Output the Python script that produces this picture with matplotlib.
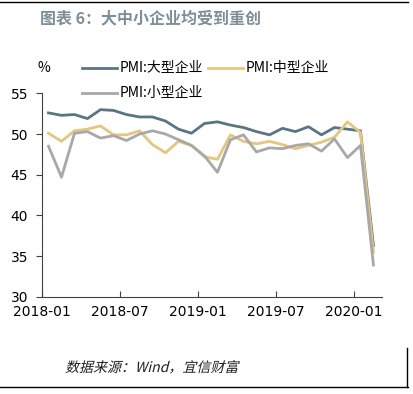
import matplotlib.pyplot as plt
from matplotlib.lines import Line2D
from matplotlib.textpath import TextPath
from matplotlib.patches import PathPatch
from matplotlib.font_manager import FontProperties
from matplotlib.transforms import Affine2D, IdentityTransform

plt.rcParams['font.family'] = ['Noto Sans CJK SC', 'DejaVu Sans']

# 月份（2018-01 到 2020-02）
months = ["2018-01", "2018-02", "2018-03", "2018-04", "2018-05", "2018-06",
          "2018-07", "2018-08", "2018-09", "2018-10", "2018-11", "2018-12",
          "2019-01", "2019-02", "2019-03", "2019-04", "2019-05", "2019-06",
          "2019-07", "2019-08", "2019-09", "2019-10", "2019-11", "2019-12",
          "2020-01", "2020-02"]

pmi_large = [52.6, 52.3, 52.4, 51.9, 53.0, 52.9, 52.4, 52.1, 52.1, 51.6, 50.6, 50.1,
             51.3, 51.5, 51.1, 50.8, 50.3, 49.9, 50.7, 50.3, 50.9, 49.9, 50.8, 50.6,
             50.4, 36.3]
pmi_medium = [50.1, 49.1, 50.4, 50.6, 51.0, 49.9, 49.9, 50.4, 48.7, 47.7, 49.1, 48.6,
              47.2, 46.9, 49.9, 49.1, 48.8, 49.1, 48.7, 48.2, 48.6, 49.0, 49.6, 51.5,
              50.2, 35.5]
pmi_small = [48.5, 44.7, 50.1, 50.3, 49.5, 49.8, 49.2, 50.0, 50.4, 50.0, 49.3, 48.6,
             47.3, 45.3, 49.3, 49.9, 47.8, 48.3, 48.2, 48.6, 48.8, 47.9, 49.4, 47.1,
             48.6, 33.9]

tick_labels = ["2018-01", "2018-07", "2019-01", "2019-07", "2020-01"]

c_large = '#5b7483'
c_medium = '#e6c67f'
c_small = '#a8a8a8'

fig = plt.figure(figsize=(4.13, 3.94), dpi=100)
ax = fig.add_axes([0.1017, 0.247, 0.823, 0.516])

x = list(range(len(months)))
ax.plot(x, pmi_large, color=c_large, lw=2)
ax.plot(x, pmi_medium, color=c_medium, lw=2)
ax.plot(x, pmi_small, color=c_small, lw=2)

ax.set_ylim(30, 55)
ax.set_yticks([30, 35, 40, 45, 50, 55])
ax.set_xlim(-0.5, 25.65)
ax.set_xticks([months.index(m) - 0.5 for m in tick_labels])
ax.set_xticklabels(tick_labels)

for s in ['top', 'right']:
    ax.spines[s].set_visible(False)
for s in ['left', 'bottom']:
    ax.spines[s].set_color('#404040')
    ax.spines[s].set_linewidth(0.8)
ax.tick_params(axis='y', direction='out', length=4, color='#404040', labelsize=10, pad=6)
ax.tick_params(axis='x', direction='in', length=4, color='#404040', labelsize=10, pad=6)
for lab in ax.get_xticklabels() + ax.get_yticklabels():
    lab.set_family('DejaVu Sans')

# 图例
fig.text(37 / 413, 1 - 68 / 394, '%', fontsize=10, ha='left', va='center')
items = [(82, 68, c_large, 'PMI:大型企业'), (208, 68, c_medium, 'PMI:中型企业'),
         (82, 93, c_small, 'PMI:小型企业')]
for px, py, col, txt in items:
    yy = 1 - py / 394
    fig.add_artist(Line2D([px / 413, (px + 35) / 413], [yy, yy], color=col, lw=2))
    fig.text((px + 38) / 413, yy, txt, fontsize=10, ha='left', va='center')

# 标题
fig.text(40 / 413, 1 - 18 / 394, '图表 6：大中小企业均受到重创', fontsize=11.5,
         fontweight='bold', color='#7d8e99', ha='left', va='center')

# 来源（斜体：CJK 字体没有斜体，用倾斜变换）
tp = TextPath((0, 0), '数据来源：Wind，宜信财富', size=14,
              prop=FontProperties(family='Noto Sans CJK SC'))
src = PathPatch(tp, color='#202020', lw=0,
                transform=Affine2D().skew_deg(14, 0).translate(65, 394 - 372) + IdentityTransform())
fig.add_artist(src)

fig.add_artist(Line2D([0, 408 / 413], [1 - 2 / 394] * 2, color='black', lw=1))
fig.add_artist(Line2D([0, 408 / 413], [1 - 387 / 394] * 2, color='black', lw=1))
fig.add_artist(Line2D([407 / 413] * 2, [1 - 348 / 394, 1 - 387 / 394], color='black', lw=1))

fig.savefig('out.png', dpi=100)
